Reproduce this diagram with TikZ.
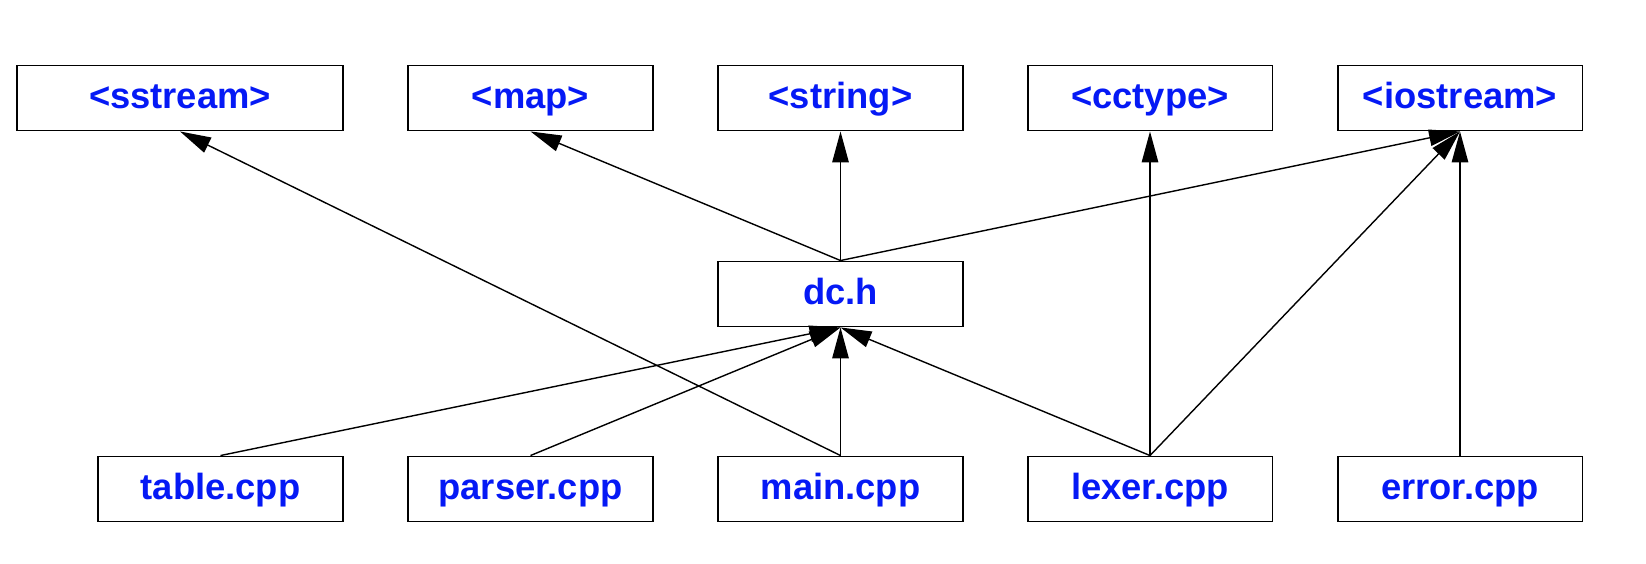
\documentclass[tikz,border=0pt]{standalone}
\usepackage{fontspec}
\setmainfont{Liberation Sans}
\usetikzlibrary{arrows.meta}
\definecolor{fblue}{RGB}{5,25,245}
\definecolor{ink}{RGB}{0,0,0}
\tikzset{
  >={Triangle[length=6.2mm,width=3.3mm]},
  hbox/.style={draw=ink,line width=1.1pt,minimum width=#1,minimum height=13mm,
    inner sep=0pt,text height=15pt,text depth=3pt,
    font=\fontsize{20.7}{24}\selectfont\bfseries,text=fblue},
  hbox/.default=49mm,
  incl/.style={->,line width=0.8pt,draw=ink},
}

\begin{document}
\begin{tikzpicture}[x=0.02cm,y=-0.02cm]
    \useasboundingbox (0,0) rectangle (1646,564);
    % headers
    \node[hbox=65.2mm] (sstream) at (180,98) {<sstream>};
    \foreach \n/\x/\t in {map/530.5/{<map>},string/840.5/{<string>},
      cctype/1150/{<cctype>},iostream/1460/{<iostream>}}
      \node[hbox] (\n) at (\x,98) {\t};
    \node[hbox] (dch) at (840.5,294) {dc.h};
    % sources
    \foreach \n/\x in {table/220.5,parser/530.5,main/840.5,lexer/1150,error/1460}
      \node[hbox] (\n) at (\x,489) {\n.cpp};
    % includes
    \foreach \a/\b in {main/sstream,dch/map,dch/string,dch/iostream,
      lexer/cctype,lexer/iostream,error/iostream,
      table/dch,parser/dch,main/dch,lexer/dch}
      \draw[incl] (\a.north) -- (\b.south);
\end{tikzpicture}
\end{document}
